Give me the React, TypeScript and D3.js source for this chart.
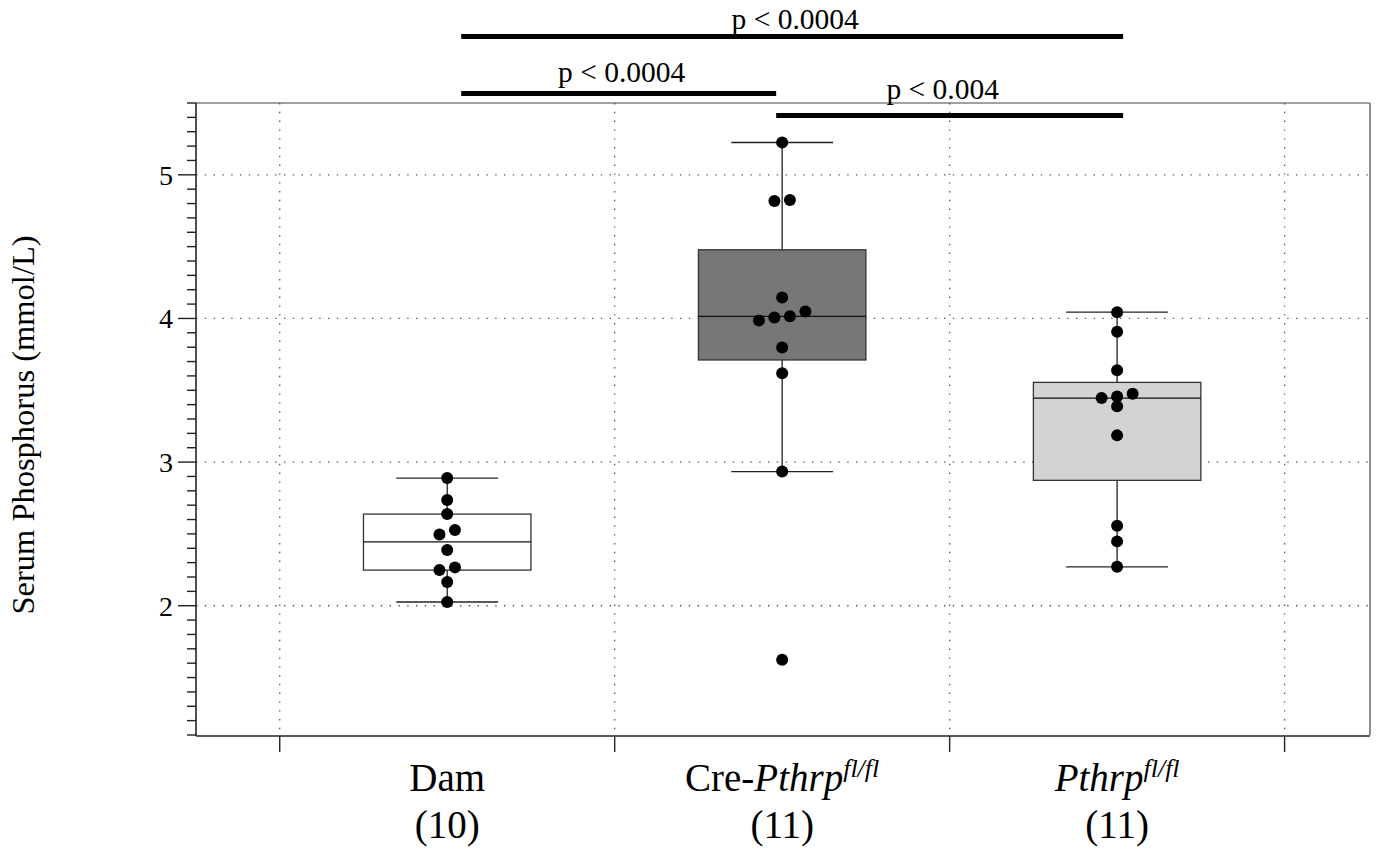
import React from "react";
import * as d3 from "d3";

// ---- data ----
const groups = ["Dam", "Cre-Pthrp", "Pthrp"];
const groupPrefix = ["Dam", "Cre-", ""];
const groupItalic = ["", "Pthrp", "Pthrp"];
const groupSup = ["", "fl/fl", "fl/fl"];
const groupN = ["(10)", "(11)", "(11)"];
const groupFill = ["#ffffff", "#777777", "#d3d3d3"];

const damValues = [2.026, 2.165, 2.248, 2.267, 2.388, 2.496, 2.527, 2.638, 2.736, 2.889];
const creValues = [1.624, 2.934, 3.619, 3.797, 3.986, 4.007, 4.016, 4.048, 4.146, 4.817, 4.824, 5.225];
const pthrpValues = [2.271, 2.448, 2.557, 3.186, 3.388, 3.446, 3.457, 3.475, 3.64, 3.907, 4.044];
const groupValues = [damValues, creValues, pthrpValues];

const whiskerLow = [2.026, 2.934, 2.271];
const boxQ1 = [2.248, 3.711, 2.873];
const boxMedian = [2.445, 4.014, 3.446];
const boxQ3 = [2.638, 4.478, 3.555];
const whiskerHigh = [2.889, 5.225, 4.044];

const yTicks = [2, 3, 4, 5];
const xGridTicks = [0.5, 1.5, 2.5, 3.5];

const brackets = [
  { from: 1, to: 3, label: "p < 0.0004" },
  { from: 1, to: 2, label: "p < 0.0004" },
  { from: 2, to: 3, label: "p < 0.004" },
];

const W = 1377;
const H = 849;
const left = 196, right = 1370, top = 103, bottom = 735;
const FONT = "'Liberation Serif', 'Times New Roman', serif";

export default function App() {
  const x = d3.scaleLinear().domain([0.25, 3.755]).range([left, right]);
  const y = d3.scaleLinear().domain([1.1, 5.5]).range([bottom, top]);
  const minorTicks = d3.range(11, 56).map((v) => v / 10);
  const boxHalf = x(0.25) - x(0);
  const capHalf = x(0.152) - x(0);
  const dotR = 6;
  const spacing = 15.5;

  // symmetric swarm: cluster consecutive close values, spread horizontally
  const positioned = groupValues.map((vals, gi) => {
    const sorted = [...vals].sort((a, b) => a - b);
    const clusters: number[][] = [];
    sorted.forEach((v, i) => {
      if (i > 0 && v - sorted[i - 1] < 0.045) clusters[clusters.length - 1].push(v);
      else clusters.push([v]);
    });
    const pts: { cx: number; cy: number }[] = [];
    clusters.forEach((c) => {
      c.forEach((v, i) => {
        pts.push({ cx: x(gi + 1) + (i - (c.length - 1) / 2) * spacing, cy: y(v) });
      });
    });
    return pts;
  });

  // bracket geometry
  const bracketY = [36.5, 93.5, 115.5];
  const bracketLabelY = [29, 82, 99];
  const bx = (side: "from" | "to", b: { from: number; to: number }) => {
    if (side === "from") return x(b.from) + (b.from === 1 ? 14 : -6);
    return x(b.to) + (b.to === 3 ? 6 : -6);
  };

  return (
    <svg
      width={W}
      height={H}
      style={{ position: "absolute", left: 0, top: 0, background: "#fff" }}
      fontFamily={FONT}
    >
      <rect x={0} y={0} width={W} height={H} fill="#fff" />
      {/* grid */}
      {yTicks.map((t) => (
        <line key={"gy" + t} x1={left} x2={right} y1={y(t)} y2={y(t)} stroke="#555" strokeWidth={1.3} strokeDasharray="1.4 7.4" />
      ))}
      {xGridTicks.map((t) => (
        <line key={"gx" + t} x1={x(t)} x2={x(t)} y1={top} y2={bottom} stroke="#555" strokeWidth={1.3} strokeDasharray="1.4 7.4" />
      ))}

      {/* frame */}
      <line x1={left} x2={right} y1={top} y2={top} stroke="#444" strokeWidth={1.2} />
      <line x1={right} x2={right} y1={top} y2={bottom} stroke="#444" strokeWidth={1.2} />
      <line x1={left} x2={left} y1={top} y2={bottom + 1} stroke="#222" strokeWidth={1.6} />
      <line x1={left} x2={right} y1={bottom + 1} y2={bottom + 1} stroke="#222" strokeWidth={1.6} />

      {/* y ticks */}
      {minorTicks.map((t) => {
        const major = Math.abs(t - Math.round(t)) < 1e-6;
        return (
          <line key={"yt" + t} x1={left - (major ? 18 : 9)} x2={left} y1={y(t)} y2={y(t)} stroke="#222" strokeWidth={1.4} />
        );
      })}
      {yTicks.map((t) => (
        <text key={"yl" + t} x={173} y={y(t)} dy="0.35em" textAnchor="end" fontSize={28} fill="#000">
          {t}
        </text>
      ))}
      {/* x ticks */}
      {xGridTicks.map((t) => (
        <line key={"xt" + t} x1={x(t)} x2={x(t)} y1={bottom + 1} y2={bottom + 17} stroke="#222" strokeWidth={1.4} />
      ))}

      {/* boxes */}
      {groups.map((g, i) => {
        const cx = x(i + 1);
        return (
          <g key={"box" + g}>
            <line x1={cx} x2={cx} y1={y(whiskerLow[i])} y2={y(boxQ1[i])} stroke="#222" strokeWidth={1.3} />
            <line x1={cx} x2={cx} y1={y(boxQ3[i])} y2={y(whiskerHigh[i])} stroke="#222" strokeWidth={1.3} />
            <line x1={cx - capHalf} x2={cx + capHalf} y1={y(whiskerLow[i])} y2={y(whiskerLow[i])} stroke="#222" strokeWidth={1.3} />
            <line x1={cx - capHalf} x2={cx + capHalf} y1={y(whiskerHigh[i])} y2={y(whiskerHigh[i])} stroke="#222" strokeWidth={1.3} />
            <rect
              x={cx - boxHalf}
              y={y(boxQ3[i])}
              width={2 * boxHalf}
              height={y(boxQ1[i]) - y(boxQ3[i])}
              fill={groupFill[i]}
              stroke="#333"
              strokeWidth={1.3}
            />
            <line x1={cx - boxHalf} x2={cx + boxHalf} y1={y(boxMedian[i])} y2={y(boxMedian[i])} stroke="#111" strokeWidth={1.3} />
          </g>
        );
      })}

      {/* points */}
      {positioned.map((pts, gi) =>
        pts.map((p, j) => <circle key={`p${gi}-${j}`} cx={p.cx} cy={p.cy} r={dotR} fill="#000" />)
      )}

      {/* x labels */}
      {groups.map((g, i) => (
        <g key={"xl" + g}>
          <text x={x(i + 1)} y={791} textAnchor="middle" fontSize={39} fill="#000">
            {groupPrefix[i] && <tspan>{groupPrefix[i]}</tspan>}
            {groupItalic[i] && <tspan fontStyle="italic">{groupItalic[i]}</tspan>}
            {groupSup[i] && (
              <tspan fontStyle="italic" fontSize={26} dy={-14}>
                {groupSup[i]}
              </tspan>
            )}
          </text>
          <text x={x(i + 1)} y={838} textAnchor="middle" fontSize={39} fill="#000">
            {groupN[i]}
          </text>
        </g>
      ))}

      {/* y title */}
      <text
        transform={`translate(34, 425) rotate(-90)`}
        textAnchor="middle"
        fontSize={32.5}
        fill="#000"
      >
        Serum Phosphorus (mmol/L)
      </text>

      {/* significance brackets */}
      {brackets.map((b, i) => {
        const x1 = bx("from", b);
        const x2 = bx("to", b);
        return (
          <g key={"br" + i}>
            <line x1={x1} x2={x2} y1={bracketY[i]} y2={bracketY[i]} stroke="#000" strokeWidth={5} />
            <text x={(x1 + x2) / 2 + (i === 2 ? -7 : 3)} y={bracketLabelY[i]} textAnchor="middle" fontSize={29.5} fill="#000">
              {b.label}
            </text>
          </g>
        );
      })}
    </svg>
  );
}
